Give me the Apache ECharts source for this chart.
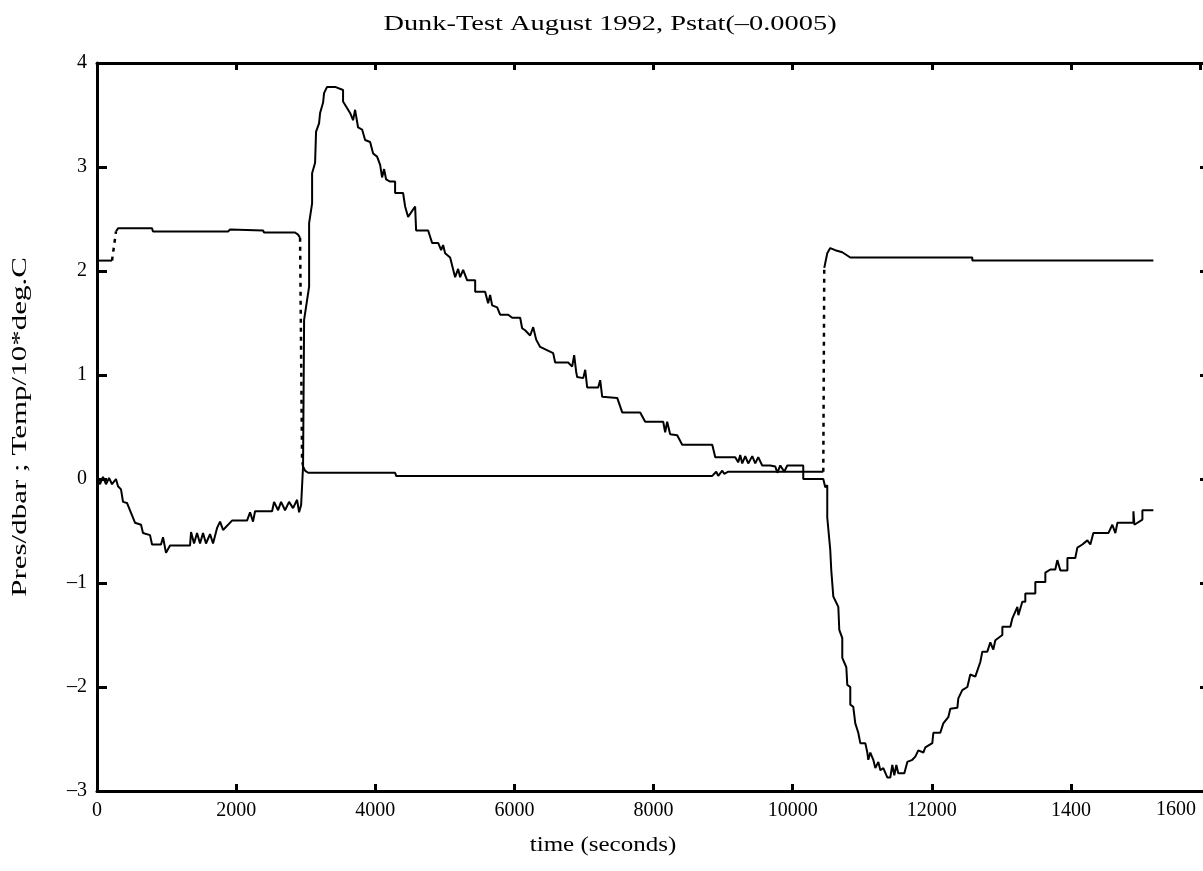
<!DOCTYPE html>
<html><head><meta charset="utf-8">
<script src="https://cdn.jsdelivr.net/npm/echarts@6/dist/echarts.min.js"></script>
<style>html,body{margin:0;padding:0;background:#fff}#c{width:1203px;height:871px}</style>
</head><body><div id="c"></div><script>
// ---- data (time in seconds, value in dbar / 10*degC) ----
const pressureTime = [0,43,86,129,173,216,273,302,345,374,431,546,633,661,762,791,920,949,992,1050,1337,1352,1395,1438,1481,1524,1567,1625,1668,1726,1769,1812,1941,2157,2200,2243,2272,2517,2545,2603,2646,2703,2761,2818,2876,2905,2934,2962,2977,3049,3049,3092,3092,3135,3149,3192,3207,3250,3264,3307,3422,3537,3537,3638,3681,3710,3753,3811,3854,3926,3969,4026,4070,4098,4127,4156,4213,4285,4285,4400,4429,4472,4573,4587,4760,4817,4904,4947,4975,5004,5076,5148,5191,5220,5263,5321,5436,5436,5579,5622,5651,5680,5752,5795,5910,5968,6083,6111,6154,6226,6270,6313,6370,6557,6586,6773,6830,6859,6888,6902,6989,7018,7046,7204,7233,7262,7478,7550,7808,7880,8139,8167,8196,8239,8340,8412,8844,8887,9174,9217,9246,9275,9318,9361,9419,9462,9505,9562,9678,9750,9779,9822,9879,9922,10152,10152,10440,10468,10497,10497,10540,10555,10584,10656,10670,10713,10713,10771,10785,10828,10828,10871,10900,10943,10972,11044,11073,11087,11116,11159,11188,11231,11260,11303,11360,11403,11432,11461,11490,11518,11605,11648,11720,11763,11806,11878,11907,12007,12022,12122,12165,12237,12266,12367,12381,12438,12511,12553,12625,12697,12726,12798,12841,12884,12913,13014,13014,13129,13158,13230,13244,13301,13344,13344,13488,13488,13632,13632,13704,13775,13804,13848,13949,13949,14062,14092,14164,14236,14279,14322,14538,14595,14638,14668,14898,14898,14912,15027,15027,15185];
const pressureValue = [0.01,-0.05,0.02,-0.05,0.01,-0.05,0.00,-0.07,-0.10,-0.22,-0.23,-0.42,-0.44,-0.52,-0.54,-0.63,-0.63,-0.56,-0.71,-0.64,-0.64,-0.51,-0.62,-0.52,-0.62,-0.52,-0.62,-0.53,-0.62,-0.47,-0.41,-0.49,-0.40,-0.40,-0.32,-0.41,-0.31,-0.31,-0.22,-0.30,-0.22,-0.30,-0.22,-0.28,-0.20,-0.32,-0.25,0.12,1.53,1.85,2.46,2.65,2.94,3.04,3.34,3.42,3.52,3.62,3.71,3.77,3.77,3.74,3.63,3.52,3.45,3.55,3.38,3.36,3.26,3.24,3.13,3.10,3.02,2.90,2.98,2.88,2.86,2.86,2.75,2.75,2.62,2.52,2.62,2.39,2.39,2.27,2.27,2.20,2.25,2.17,2.13,1.94,2.02,1.94,2.01,1.91,1.91,1.80,1.80,1.69,1.77,1.67,1.65,1.58,1.58,1.55,1.55,1.45,1.43,1.38,1.46,1.34,1.27,1.21,1.12,1.12,1.08,1.19,1.03,0.98,0.97,1.05,0.88,0.88,0.95,0.79,0.78,0.64,0.64,0.55,0.55,0.45,0.55,0.43,0.42,0.33,0.33,0.21,0.21,0.16,0.23,0.15,0.22,0.15,0.22,0.15,0.21,0.13,0.13,0.12,0.06,0.13,0.07,0.13,0.13,0.00,0.00,-0.08,-0.06,-0.37,-0.68,-0.88,-1.13,-1.23,-1.45,-1.53,-1.72,-1.81,-1.98,-2.00,-2.17,-2.19,-2.35,-2.44,-2.54,-2.54,-2.63,-2.70,-2.63,-2.70,-2.78,-2.72,-2.80,-2.78,-2.87,-2.87,-2.75,-2.85,-2.75,-2.83,-2.83,-2.72,-2.70,-2.67,-2.61,-2.63,-2.58,-2.54,-2.44,-2.44,-2.35,-2.29,-2.21,-2.20,-2.11,-2.03,-2.00,-1.88,-1.90,-1.76,-1.66,-1.66,-1.57,-1.64,-1.55,-1.50,-1.42,-1.42,-1.34,-1.23,-1.31,-1.18,-1.18,-1.10,-1.10,-0.99,-0.99,-0.90,-0.87,-0.87,-0.78,-0.88,-0.88,-0.76,-0.76,-0.66,-0.63,-0.59,-0.63,-0.52,-0.52,-0.44,-0.52,-0.42,-0.42,-0.31,-0.44,-0.39,-0.30,-0.30];

const tempTime1 = [0,216];
const tempValue1 = [2.10,2.10];
const tempTime2 = [273,302,791,805,1884,1913,2387,2401,2847,2890,2919];
const tempValue2 = [2.38,2.41,2.41,2.38,2.38,2.40,2.39,2.37,2.37,2.35,2.32];
const tempTime3 = [2948,2962,2991,3034,4285,4300,8844,8901,8930,8988,9016,9074,10440];
const tempValue3 = [0.16,0.12,0.08,0.06,0.06,0.03,0.03,0.07,0.03,0.08,0.05,0.07,0.07];
const tempTime4 = [10454,10497,10540,10612,10713,10828,12582,12582,15185];
const tempValue4 = [2.03,2.17,2.22,2.20,2.18,2.13,2.13,2.10,2.10];
// steep jumps drawn dotted
const jumpTime1 = [216,273];   const jumpValue1 = [2.10,2.38];
const jumpTime2 = [2919,2948]; const jumpValue2 = [2.32,0.16];
const jumpTime3 = [10440,10454]; const jumpValue3 = [0.07,2.03];

const xTickLabels = {0:'0',2000:'2000',4000:'4000',6000:'6000',8000:'8000',10000:'10000',12000:'12000',14000:'1400'};
const extraXLabel = '1600';
const titleText = 'Dunk-Test August 1992, Pstat(\u20130.0005)';
const xName = 'time (seconds)';
const yName = 'Pres/dbar ; Temp/10*deg.C';

const zip = (t, v) => t.map((x, i) => [x, v[i]]);
const FONT = 'Liberation Serif';
const solid = {color:'#000', width:2};
const dotted = {color:'#000', width:2.5, type:[4,5]};
function line(t, v, ls){
  return {type:'line', data:zip(t,v), showSymbol:false, symbol:'none', lineStyle:ls, xAxisIndex:0, yAxisIndex:0, animation:false, silent:true, z:3};
}
const chart = echarts.init(document.getElementById('c'), null, {renderer:'canvas'});
function axisBase(tickLen){
  return {
    axisLine:{show:true, onZero:false, lineStyle:{color:'#000', width:3}},
    axisTick:{show:true, inside:true, length:tickLen, lineStyle:{color:'#000', width:3}},
    splitLine:{show:false}
  };
}
const X_MAX = 15855; // visible right edge of the (cropped) plot frame
chart.setOption({
  backgroundColor:'#fff',
  animation:false,
  grid:{left:97, top:63, right:3, bottom:80, containLabel:false},
  xAxis:[
    Object.assign({type:'value', min:0, max:X_MAX, interval:2000, position:'bottom',
      axisLabel:{show:true, margin:10, fontFamily:FONT, fontSize:20, color:'#000', showMaxLabel:false,
        formatter:v => (v in xTickLabels) ? xTickLabels[v] : ''}}, axisBase(7)),
    Object.assign({type:'value', min:0, max:X_MAX, interval:2000, position:'top', axisLabel:{show:false}}, axisBase(7))
  ],
  yAxis:[
    Object.assign({type:'value', min:-3, max:4, interval:1, position:'left',
      axisLabel:{show:true, margin:10, fontFamily:FONT, fontSize:20, color:'#000',
        formatter:v => v < 0 ? '\u2013' + Math.abs(v) : String(v)}}, axisBase(10)),
    Object.assign({type:'value', min:-3, max:4, interval:1, position:'right', offset:10, axisLabel:{show:false}}, axisBase(10),
      {axisLine:{show:false, onZero:false}})
  ],
  graphic:[
    {type:'text', x:610, y:25, scaleX:1.42, style:{text:titleText, font:'20px "Liberation Serif"', fill:'#000', align:'center', verticalAlign:'middle'}},
    {type:'text', x:603, y:846, scaleX:1.25, style:{text:xName, font:'20px "Liberation Serif"', fill:'#000', align:'center', verticalAlign:'middle'}},
    {type:'text', x:21, y:427, rotation:Math.PI/2, scaleX:1.55, style:{text:yName, font:'20px "Liberation Serif"', fill:'#000', align:'center', verticalAlign:'middle'}},
    {type:'text', x:1196, y:810, style:{text:extraXLabel, font:'20px "Liberation Serif"', fill:'#000', align:'right', verticalAlign:'middle'}}
  ],
  series:[
    line(pressureTime, pressureValue, solid),
    line(tempTime1, tempValue1, solid),
    line(tempTime2, tempValue2, solid),
    line(tempTime3, tempValue3, solid),
    line(tempTime4, tempValue4, solid),
    line(jumpTime1, jumpValue1, dotted),
    line(jumpTime2, jumpValue2, dotted),
    line(jumpTime3, jumpValue3, dotted)
  ]
});
</script></body></html>
